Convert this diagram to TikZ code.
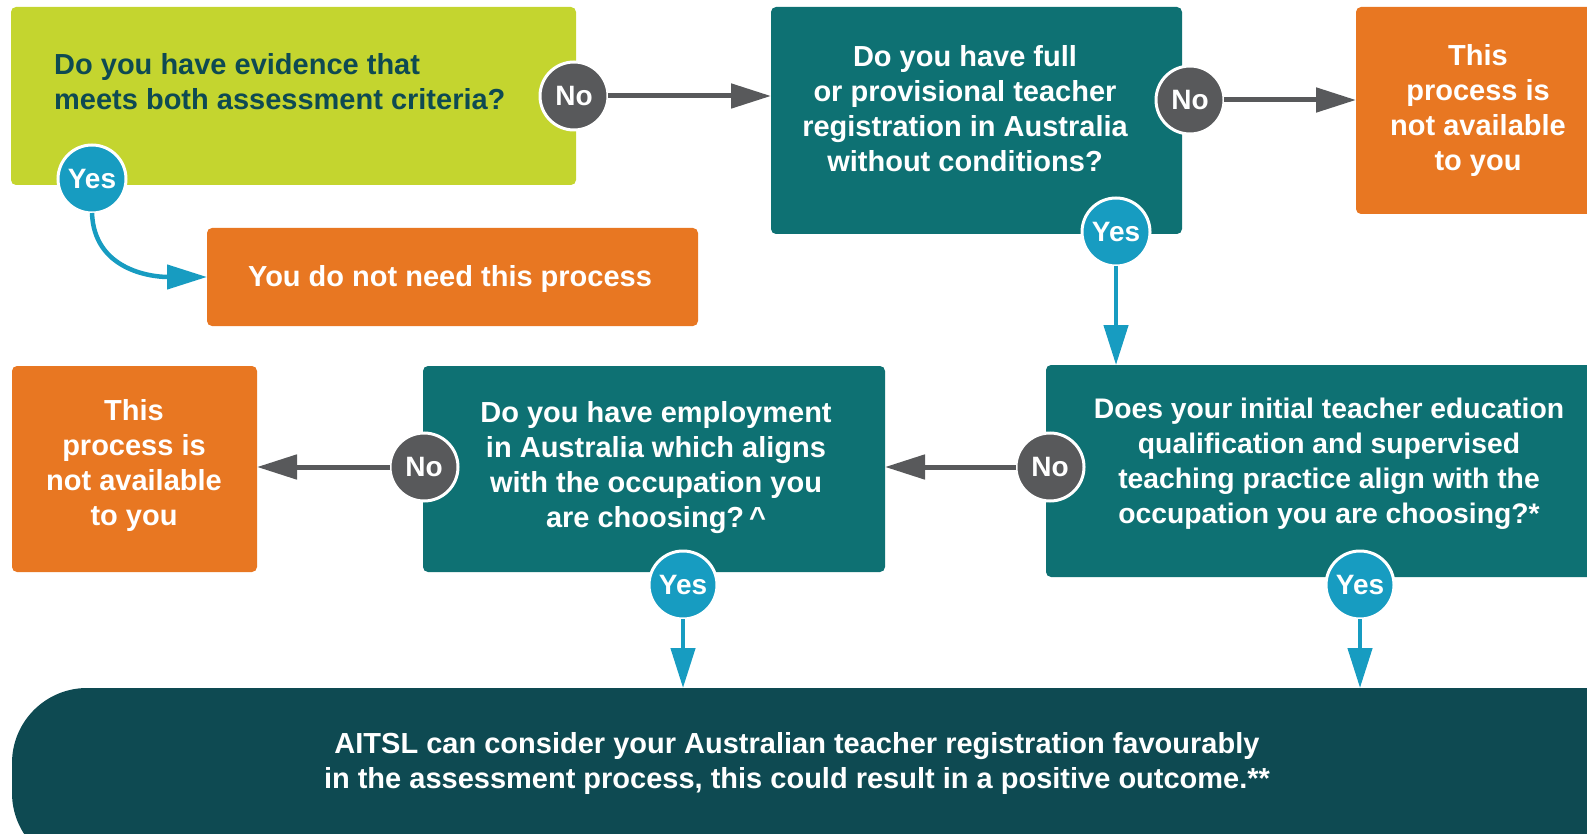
\documentclass[tikz,border=0pt]{standalone}
\usepackage{fontspec}
\setmainfont{Liberation Sans}
\usetikzlibrary{arrows.meta}
\definecolor{cgreen}{HTML}{C4D52F}
\definecolor{cteal}{HTML}{0E7173}
\definecolor{corange}{HTML}{E87722}
\definecolor{cgray}{HTML}{58595B}
\definecolor{cblue}{HTML}{179CC1}
\definecolor{cdark}{HTML}{0E4A52}
\definecolor{ctext}{HTML}{0E4A52}
\begin{document}
\begin{tikzpicture}[x=1pt,y=-1pt,
 box/.style={rectangle, rounded corners=5pt, inner sep=0pt, outer sep=0pt, anchor=north west},
 txt/.style={text=white, font=\fontsize{29}{35}\selectfont\bfseries, align=center, inner sep=0pt},
 nocirc/.style={circle, fill=cgray, draw=white, line width=3pt, minimum size=68pt, inner sep=0pt, outer sep=0pt, text=white, font=\fontsize{28}{28}\selectfont\bfseries},
 yescirc/.style={nocirc, fill=cblue},
 noarr/.style={draw=cgray, line width=5pt, -{Triangle[length=40pt,width=24pt]}},
 yesarr/.style={draw=cblue, line width=4.5pt, -{Triangle[length=40pt,width=24pt]}},
]
\useasboundingbox (0,0) rectangle (1587,834);
\clip (0,0) rectangle (1587,834);

% boxes
\node[box, fill=cgreen, minimum width=565pt, minimum height=178pt] (g1) at (11,7) {};
\node[box, fill=cteal, minimum width=411pt, minimum height=227pt] (t1) at (771,7) {};
\node[box, fill=corange, minimum width=260pt, minimum height=207pt] (o1) at (1356,7) {};
\node[box, fill=corange, minimum width=491pt, minimum height=98pt] (o2) at (207,228) {};
\node[box, fill=cteal, minimum width=580pt, minimum height=212pt] (t3) at (1046,365) {};
\node[box, fill=cteal, minimum width=462pt, minimum height=206pt] (t2) at (423,366) {};
\node[box, fill=corange, minimum width=245pt, minimum height=206pt] (o3) at (12,366) {};
\node[box, fill=cdark, minimum width=1660pt, minimum height=180pt, rounded corners=75pt] (fin) at (12,688) {};

% texts
\node[txt, text=ctext, align=left, anchor=west] (g1t) at (54,82) {Do you have evidence that\\meets both assessment criteria?};
\node[txt] (t1t) at (965,109) {Do you have full\\or provisional teacher\\registration in Australia\\without conditions?};
\node[txt] (o1t) at (1478,111) {This\\process is\\not available\\to you};
\node[txt] (o2t) at (450,279) {You do not need this process};
\node[txt, font=\fontsize{28.3}{35}\selectfont\bfseries] (t3t) at (1329,464) {Does your initial teacher education\\qualification and supervised\\teaching practice align with the\\occupation you are choosing?*};
\node[txt] (t2t) at (656,468) {Do you have employment\\in Australia which aligns\\with the occupation you\\are choosing?\,\^{}};
\node[txt] (o3t) at (134,465) {This\\process is\\not available\\to you};
\node[txt] (fint) at (797,763) {AITSL can consider your Australian teacher registration favourably\\in the assessment process, this could result in a positive outcome.**};

% circles
\node[nocirc] (n1) at (574,96) {No};
\node[nocirc] (n2) at (1190,100) {No};
\node[nocirc] (n3) at (1050,467) {No};
\node[nocirc] (n4) at (424,467) {No};
\node[yescirc] (y1) at (92,179) {Yes};
\node[yescirc] (y2) at (1116,232) {Yes};
\node[yescirc] (y3) at (683,585) {Yes};
\node[yescirc] (y4) at (1360,585) {Yes};

% connectors
\draw[noarr] (n1.east) -- (n1.east -| t1.west);
\draw[noarr] (n2.east) -- (n2.east -| o1.west);
\draw[noarr] (n3.west) -- (n3.west -| t2.east);
\draw[noarr] (n4.west) -- (n4.west -| o3.east);
\draw[yesarr] (y1.south) to[out=-88, in=180, looseness=1.1] (o2.west);
\draw[yesarr] (y2.south) -- (y2.south |- t3.north);
\draw[yesarr] (y3.south) -- (y3.south |- fin.north);
\draw[yesarr] (y4.south) -- (y4.south |- fin.north);
\end{tikzpicture}
\end{document}
